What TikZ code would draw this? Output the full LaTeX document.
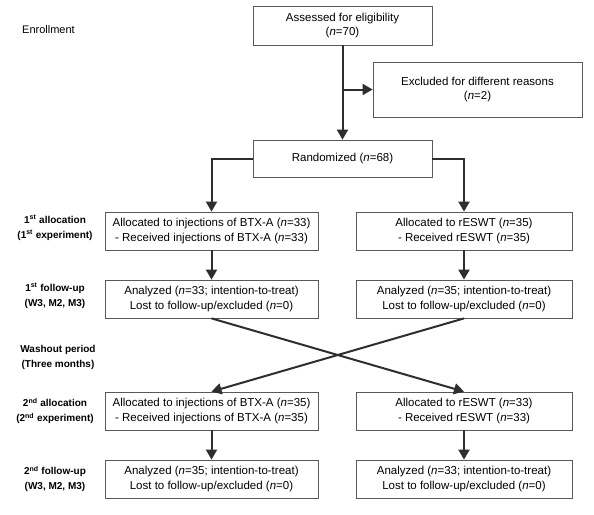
\documentclass[tikz,border=0pt]{standalone}
\usepackage{fontspec}
\setmainfont{Liberation Sans}
\usetikzlibrary{arrows.meta}
\begin{document}
\begin{tikzpicture}[x=1pt,y=-1pt,
  box/.style={draw=black!65,line width=0.8pt,rectangle,align=center,font=\fontsize{11.5}{14.5}\selectfont,inner sep=0pt},
  side/.style={align=center,font=\bfseries\fontsize{10}{15}\selectfont},
  flow/.style={draw=black!82,line width=2pt,-{Triangle[length=10pt,width=11pt]}}]
\useasboundingbox (0,0) rectangle (594,514);
\node[box,minimum width=179pt,minimum height=39pt] (assess) at (342.5,25.5) {Assessed for eligibility\\(\textit{n}=70)};
\node[box,minimum width=209pt,minimum height=55pt] (excl) at (477.5,89.5) {Excluded for different reasons\\(\textit{n}=2)};
\node[box,minimum width=179pt,minimum height=37pt] (rand) at (342.5,158.5) {Randomized (\textit{n}=68)};
\node[box,minimum width=213pt,minimum height=38pt] (a1L) at (211.5,231) {Allocated to injections of BTX-A (\textit{n}=33)\\- Received injections of BTX-A (\textit{n}=33)};
\node[box,minimum width=216pt,minimum height=38pt] (a1R) at (464,231) {Allocated to rESWT (\textit{n}=35)\\- Received rESWT (\textit{n}=35)};
\node[box,minimum width=213pt,minimum height=38pt] (f1L) at (211.5,299) {Analyzed (\textit{n}=33; intention-to-treat)\\Lost to follow-up/excluded (\textit{n}=0)};
\node[box,minimum width=216pt,minimum height=38pt] (f1R) at (464,299) {Analyzed (\textit{n}=35; intention-to-treat)\\Lost to follow-up/excluded (\textit{n}=0)};
\node[box,minimum width=213pt,minimum height=38pt] (a2L) at (211.5,411) {Allocated to injections of BTX-A (\textit{n}=35)\\- Received injections of BTX-A (\textit{n}=35)};
\node[box,minimum width=216pt,minimum height=38pt] (a2R) at (464,411) {Allocated to rESWT (\textit{n}=33)\\- Received rESWT (\textit{n}=33)};
\node[box,minimum width=213pt,minimum height=38pt] (f2L) at (211.5,479) {Analyzed (\textit{n}=35; intention-to-treat)\\Lost to follow-up/excluded (\textit{n}=0)};
\node[box,minimum width=216pt,minimum height=38pt] (f2R) at (464,479) {Analyzed (\textit{n}=33; intention-to-treat)\\Lost to follow-up/excluded (\textit{n}=0)};
\node[font=\fontsize{11}{13}\selectfont,anchor=west,inner sep=0pt] (enr) at (22,30) {Enrollment};
\node[side] (l1) at (55,228) {1\textsuperscript{st} allocation\\(1\textsuperscript{st} experiment)};
\node[side] (l2) at (55,296) {1\textsuperscript{st} follow-up\\(W3, M2, M3)};
\node[side] (l3) at (58,357) {Washout period\\(Three months)};
\node[side] (l4) at (55,411) {2\textsuperscript{nd} allocation\\(2\textsuperscript{nd} experiment)};
\node[side] (l5) at (55,479) {2\textsuperscript{nd} follow-up\\(W3, M2, M3)};
\coordinate (br) at (assess.south |- excl.west);
\draw[flow] (assess.south) -- (rand.north);
\draw[flow] (br) -- (excl.west);
\draw[flow] (rand.west) -| (a1L.north);
\draw[flow] (rand.east) -| (a1R.north);
\draw[flow] (a1L) -- (f1L);
\draw[flow] (a1R) -- (f1R);
\draw[flow] (f1L.south) -- (a2R.north);
\draw[flow] (f1R.south) -- (a2L.north);
\draw[flow] (a2L) -- (f2L);
\draw[flow] (a2R) -- (f2R);
\end{tikzpicture}
\end{document}
